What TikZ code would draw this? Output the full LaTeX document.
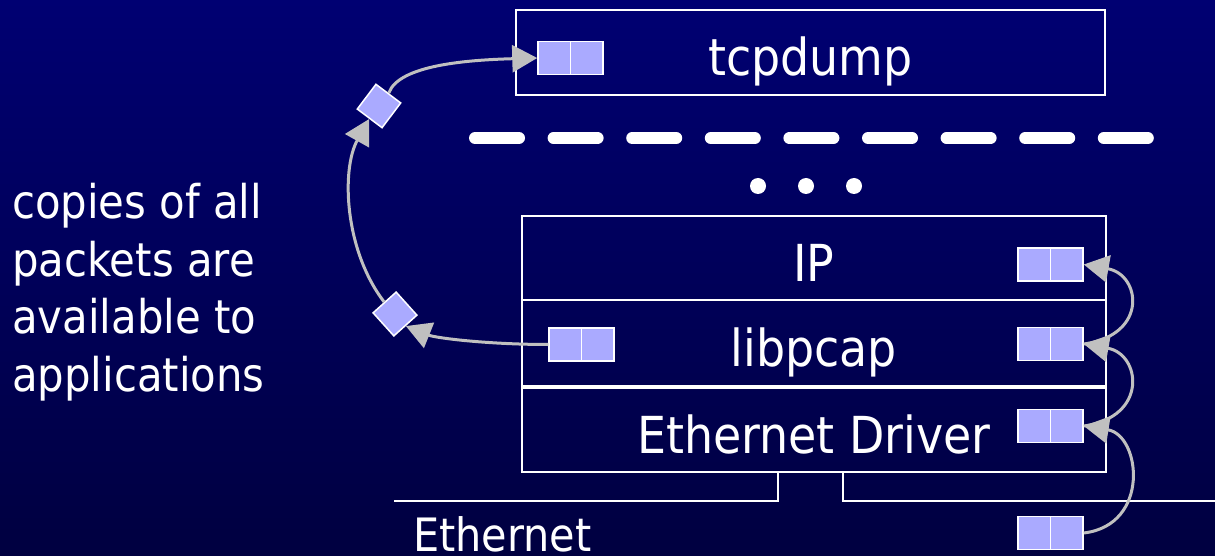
\documentclass[tikz,border=0pt]{standalone}
\usepackage{fontspec}
\setmainfont{DejaVu Sans Condensed}
\usetikzlibrary{arrows.meta, positioning}
\definecolor{navytop}{RGB}{0,0,114}
\definecolor{navybot}{RGB}{0,0,64}
\definecolor{bufblue}{RGB}{170,170,255}
\definecolor{flowgray}{RGB}{192,192,192}

\begin{document}
\begin{tikzpicture}[x=1pt, y=-1pt,
    layer/.style={draw=white, line width=1.5pt, minimum width=584pt, minimum height=84pt, inner sep=0pt, text=white, text height=46pt, text depth=0pt, font=\fontsize{51}{60}\selectfont},
    buf/.style={draw=white, fill=bufblue, line width=1.5pt, minimum width=65pt, minimum height=33pt, inner sep=0pt, path picture={\draw[white, line width=1.5pt] (path picture bounding box.north) -- (path picture bounding box.south);}},
    dia/.style={draw=white, fill=bufblue, line width=1.5pt, minimum size=31pt, inner sep=0pt},
    flow/.style={draw=flowgray, line width=3pt, -{Triangle[length=25pt, width=27pt]}},
    wire/.style={draw=white, line width=1.5pt}]
      \shade[top color=navytop, bottom color=navybot] (0,0) rectangle (1215,556);
      \useasboundingbox (0,0) rectangle (1215,556);
      \node[layer, minimum width=589pt, minimum height=85pt] (tcp) at (810.5,52.5) {tcpdump};
      \node[layer] (ip) at (814,258) {IP};
      \node[layer, minimum height=86pt] (pcap) at (814,343) {libpcap};
      \node[layer] (drv) at (814,430) {Ethernet Driver};
      \node[buf] (tcpb) at (570.5,58) {};
      \node[buf] (ipb) at (1050.5,264.5) {};
      \node[buf] (pcapb) at (1050.5,344) {};
      \node[buf] (drvb) at (1050.5,426) {};
      \node[buf] (ethb) at (1050.5,533) {};
      \node[buf] (pcapl) at (581.5,344.5) {};
      \node[dia, rotate=53] (d1) at (379,106) {};
      \node[dia, rotate=42] (d2) at (395,314) {};
      \node[anchor=north west, align=left, inner sep=0pt, text=white, font=\fontsize{46.5}{57.5}\selectfont] (note) at (12,183) {copies of all\\packets are\\available to\\applications};
      \node[anchor=base west, inner sep=0pt, text=white, font=\fontsize{46}{55}\selectfont] (ethl) at (413,551) {Ethernet};
      \draw[white, line width=12pt, line cap=round, dash pattern=on 44pt off 34.6pt] (475,138) -- (1148,138);
      \foreach \x in {758,806,854}
        \fill[white] (\x,186) circle (8pt);
      \draw[wire] (394,501) -- (778,501) -- (778,472);
      \draw[wire] (843,472) -- (843,501) -- (1215,501);
      \draw[flow] (ethb.east) .. controls +(67,-8) and +(57,9) .. (drvb.east);
      \draw[flow] (drvb.east) .. controls +(65,-9) and +(57,10) .. (pcapb.east);
      \draw[flow] (pcapb.east) .. controls +(65,-9) and +(57,10) .. (ipb.east);
      \draw[flow] (pcapl.west) .. controls +(-60,0) and +(30,12) .. (d2.south);
      \draw[flow] (d2.north) .. controls +(-40,-52) and +(-28,50) .. (d1.west);
      \draw[flow] (d1.east) .. controls +(10,-28) and +(-70,2) .. (tcpb.west);
    \end{tikzpicture}
\end{document}
